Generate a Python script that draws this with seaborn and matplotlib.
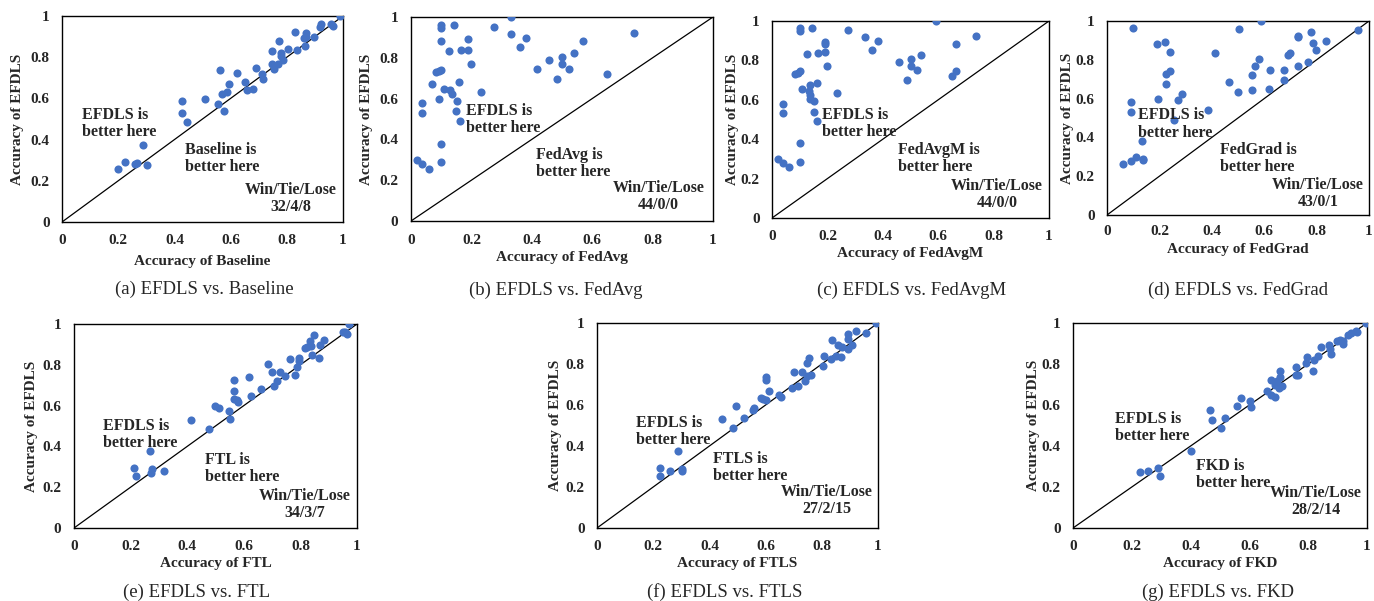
import numpy as np
import pandas as pd
import matplotlib
matplotlib.use('Agg')
import matplotlib.pyplot as plt
import seaborn as sns

# accuracy of the compared method (x) vs accuracy of EFDLS (y), 44 datasets each
baseline_x = [0.201, 0.225, 0.260, 0.266, 0.290, 0.302, 0.426, 0.426, 0.444, 0.508, 0.556, 0.562, 0.568, 0.576,
              0.586, 0.593, 0.624, 0.651, 0.657, 0.678, 0.690, 0.710, 0.716, 0.747, 0.749, 0.754, 0.773, 0.770,
              0.781, 0.781, 0.787, 0.806, 0.828, 0.837, 0.862, 0.863, 0.870, 0.898, 0.917, 0.923, 0.956, 0.964,
              0.991, 0.870]
baseline_y = [0.256, 0.293, 0.283, 0.288, 0.375, 0.275, 0.587, 0.529, 0.485, 0.595, 0.574, 0.739, 0.620, 0.537,
              0.633, 0.672, 0.725, 0.680, 0.639, 0.647, 0.746, 0.720, 0.694, 0.830, 0.767, 0.741, 0.880, 0.769,
              0.820, 0.807, 0.788, 0.838, 0.921, 0.835, 0.893, 0.853, 0.917, 0.898, 0.947, 0.960, 0.963, 0.950,
              0.998, 0.898]

fedavg_x = [0.020, 0.038, 0.061, 0.038, 0.038, 0.068, 0.083, 0.093, 0.100, 0.094, 0.099, 0.099, 0.099, 0.099,
            0.099, 0.108, 0.126, 0.129, 0.137, 0.143, 0.151, 0.150, 0.159, 0.161, 0.167, 0.188, 0.189, 0.200,
            0.233, 0.275, 0.332, 0.332, 0.360, 0.382, 0.416, 0.458, 0.485, 0.499, 0.499, 0.522, 0.539, 0.570,
            0.649, 0.740]
fedavg_y = [0.298, 0.278, 0.255, 0.576, 0.531, 0.673, 0.730, 0.735, 0.740, 0.597, 0.378, 0.290, 0.961, 0.948,
            0.881, 0.646, 0.831, 0.642, 0.622, 0.959, 0.589, 0.537, 0.682, 0.488, 0.836, 0.840, 0.892, 0.772,
            0.633, 0.951, 0.998, 0.918, 0.851, 0.897, 0.745, 0.789, 0.696, 0.805, 0.769, 0.746, 0.822, 0.884,
            0.722, 0.921]

fedavgm_x = [0.020, 0.038, 0.062, 0.038, 0.038, 0.084, 0.094, 0.102, 0.100, 0.100, 0.100, 0.100, 0.108, 0.126,
             0.132, 0.138, 0.136, 0.144, 0.138, 0.152, 0.150, 0.161, 0.164, 0.167, 0.190, 0.190, 0.190, 0.200,
             0.233, 0.275, 0.334, 0.361, 0.384, 0.460, 0.486, 0.501, 0.501, 0.522, 0.539, 0.592, 0.651, 0.663,
             0.664, 0.738]
fedavgm_y = [0.298, 0.278, 0.261, 0.578, 0.533, 0.730, 0.738, 0.744, 0.965, 0.947, 0.379, 0.286, 0.653, 0.835,
             0.646, 0.675, 0.602, 0.965, 0.624, 0.594, 0.540, 0.686, 0.491, 0.838, 0.895, 0.882, 0.841, 0.771,
             0.636, 0.953, 0.921, 0.855, 0.901, 0.791, 0.698, 0.808, 0.771, 0.752, 0.825, 1.000, 0.722, 0.885,
             0.747, 0.926]

fedgrad_x = [0.061, 0.091, 0.112, 0.137, 0.137, 0.135, 0.091, 0.091, 0.100, 0.190, 0.195, 0.222, 0.241, 0.225,
             0.240, 0.226, 0.256, 0.272, 0.286, 0.387, 0.412, 0.464, 0.500, 0.505, 0.552, 0.553, 0.566, 0.582,
             0.589, 0.617, 0.622, 0.675, 0.675, 0.692, 0.698, 0.728, 0.728, 0.768, 0.777, 0.787, 0.797, 0.834,
             0.959, 0.728]
fedgrad_y = [0.261, 0.277, 0.297, 0.290, 0.282, 0.380, 0.581, 0.533, 0.964, 0.883, 0.598, 0.893, 0.840, 0.727,
             0.742, 0.674, 0.490, 0.591, 0.624, 0.540, 0.833, 0.684, 0.636, 0.960, 0.722, 0.643, 0.768, 0.806,
             0.998, 0.648, 0.749, 0.746, 0.696, 0.823, 0.837, 0.923, 0.770, 0.789, 0.945, 0.885, 0.852, 0.899,
             0.952, 0.918]

ftl_x = [0.213, 0.219, 0.267, 0.271, 0.274, 0.317, 0.415, 0.476, 0.499, 0.512, 0.546, 0.550, 0.567, 0.566,
         0.566, 0.575, 0.578, 0.619, 0.625, 0.660, 0.687, 0.699, 0.705, 0.719, 0.729, 0.746, 0.764, 0.782,
         0.788, 0.794, 0.794, 0.818, 0.833, 0.837, 0.841, 0.847, 0.866, 0.870, 0.882, 0.949, 0.956, 0.965,
         0.973, 0.823]
ftl_y = [0.292, 0.254, 0.377, 0.272, 0.289, 0.280, 0.530, 0.487, 0.597, 0.587, 0.575, 0.536, 0.725, 0.670,
         0.631, 0.628, 0.620, 0.739, 0.648, 0.680, 0.803, 0.767, 0.695, 0.720, 0.767, 0.743, 0.830, 0.748,
         0.787, 0.833, 0.820, 0.882, 0.918, 0.893, 0.849, 0.948, 0.833, 0.898, 0.921, 0.961, 0.961, 0.951,
         1.000, 0.885]

ftls_x = [0.225, 0.225, 0.260, 0.290, 0.303, 0.303, 0.445, 0.483, 0.495, 0.524, 0.554, 0.559, 0.582, 0.589,
          0.600, 0.600, 0.600, 0.613, 0.646, 0.656, 0.693, 0.701, 0.716, 0.729, 0.740, 0.748, 0.755, 0.763,
          0.746, 0.805, 0.807, 0.831, 0.836, 0.852, 0.858, 0.870, 0.873, 0.893, 0.893, 0.893, 0.907, 0.923,
          0.959, 0.994]
ftls_y = [0.294, 0.254, 0.277, 0.377, 0.287, 0.279, 0.530, 0.486, 0.597, 0.537, 0.574, 0.584, 0.633, 0.628,
          0.738, 0.723, 0.622, 0.670, 0.649, 0.641, 0.682, 0.763, 0.695, 0.763, 0.719, 0.804, 0.829, 0.744,
          0.742, 0.788, 0.837, 0.822, 0.918, 0.840, 0.891, 0.832, 0.883, 0.946, 0.922, 0.873, 0.894, 0.959,
          0.951, 1.000]

fkd_x = [0.227, 0.256, 0.290, 0.295, 0.403, 0.466, 0.473, 0.503, 0.517, 0.557, 0.570, 0.602, 0.605, 0.661,
         0.673, 0.673, 0.688, 0.693, 0.699, 0.705, 0.705, 0.710, 0.757, 0.759, 0.767, 0.793, 0.795, 0.816,
         0.820, 0.835, 0.843, 0.872, 0.877, 0.909, 0.920, 0.934, 0.945, 0.964, 0.998, 0.875, 0.898, 0.920,
         0.966, 0.688]
fkd_y = [0.274, 0.279, 0.292, 0.254, 0.377, 0.574, 0.529, 0.486, 0.535, 0.597, 0.633, 0.620, 0.589, 0.670,
         0.723, 0.649, 0.639, 0.718, 0.682, 0.767, 0.739, 0.695, 0.786, 0.744, 0.744, 0.804, 0.832, 0.767,
         0.821, 0.840, 0.883, 0.891, 0.848, 0.918, 0.897, 0.943, 0.951, 0.959, 1.000, 0.871, 0.910, 0.910,
         0.956, 0.700]

methods = ['Baseline', 'FedAvg', 'FedAvgM', 'FedGrad', 'FTL', 'FTLS', 'FKD']
wtl = ['32/4/8', '44/0/0', '44/0/0', '43/0/1', '34/3/7', '27/2/15', '28/2/14']
xs = [baseline_x, fedavg_x, fedavgm_x, fedgrad_x, ftl_x, ftls_x, fkd_x]
ys = [baseline_y, fedavg_y, fedavgm_y, fedgrad_y, ftl_y, ftls_y, fkd_y]

W, H = 1374, 601
# axes boxes in pixels: left, top, right, bottom
boxes = [(62, 16, 343, 222), (411, 17, 713, 221), (772, 21, 1049, 218), (1107, 21, 1369, 215),
         (74, 324, 357, 528), (597, 323, 878, 528), (1073, 323, 1367, 528)]
captions_xy = [(204, 289), (556, 290), (912, 290), (1238, 290), (197, 592), (725, 592), (1218, 592)]
ylab_gap = [45, 44, 40, 40, 42, 42, 40]
xlab_gap = [40, 36, 35, 34, 35, 35, 35]
tick_pad = [9, 9, 9, 7, 9, 9, 9]
# text anchors in data coords (left/top)
better_efdls = [(0.071, 0.56), (0.183, 0.578), (0.180, 0.562), (0.117, 0.555), (0.104, 0.538), (0.140, 0.551), (0.143, 0.571)]
better_other = [(0.438, 0.388), (0.415, 0.365), (0.456, 0.388), (0.431, 0.378), (0.463, 0.374), (0.412, 0.375), (0.417, 0.343)]
wtl_pos = [(0.813, 0.194), (0.820, 0.201), (0.813, 0.202), (0.806, 0.198), (0.814, 0.197), (0.819, 0.217), (0.827, 0.209)]

sns.set_style('white')
plt.rcParams['font.family'] = ['Liberation Serif', 'DejaVu Serif']
plt.rcParams['font.weight'] = 'bold'

fig = plt.figure(figsize=(W / 100, H / 100), dpi=100)
blue = '#4472C4'
ticks = [0, 0.2, 0.4, 0.6, 0.8, 1]
tlabels = ['0', '0.2', '0.4', '0.6', '0.8', '1']

for i, m in enumerate(methods):
    l, t, r, b = boxes[i]
    ax = fig.add_axes([l / W, 1 - b / H, (r - l) / W, (b - t) / H])
    df = pd.DataFrame({'x': xs[i], 'y': ys[i]})
    ax.axline((0, 0), slope=1, color='black', lw=0.9, zorder=1)
    sns.scatterplot(data=df, x='x', y='y', ax=ax, color=blue, s=34, linewidth=0, zorder=3)
    ax.set_xlim(0, 1)
    ax.set_ylim(0, 1)
    ax.set_xticks(ticks)
    ax.set_yticks(ticks)
    ax.set_xticklabels(tlabels, fontsize=11, fontweight='bold')
    ax.set_yticklabels(tlabels, fontsize=11, fontweight='bold')
    ax.tick_params(length=0, pad=9)
    ax.tick_params(axis='x', pad=tick_pad[i])
    for sp in ax.spines.values():
        sp.set_visible(True)
        sp.set_color('black')
        sp.set_linewidth(1.0)
    ax.set_xlabel('Accuracy of ' + m, fontsize=11, fontweight='bold', va='center')
    ax.set_ylabel('Accuracy of EFDLS', fontsize=11, fontweight='bold', va='center')
    ax.xaxis.set_label_coords(0.5, -xlab_gap[i] / (b - t))
    ax.yaxis.set_label_coords(-ylab_gap[i] / (r - l), 0.5)

    ax.text(*better_efdls[i], 'EFDLS is\nbetter here', fontsize=11.5, fontweight='bold',
            ha='left', va='top', linespacing=1.1)
    ax.text(*better_other[i], m + ' is\nbetter here', fontsize=11.5, fontweight='bold',
            ha='left', va='top', linespacing=1.1)
    ax.text(*wtl_pos[i], 'Win/Tie/Lose\n' + wtl[i], fontsize=11.5, fontweight='bold',
            ha='center', va='top', linespacing=1.1)

    cx, cy = captions_xy[i]
    fig.text(cx / W, 1 - cy / H, '(' + 'abcdefg'[i] + ') EFDLS vs. ' + m, fontsize=13.5,
             fontweight='normal', ha='center', va='center')

plt.savefig('out.png', dpi=100)
